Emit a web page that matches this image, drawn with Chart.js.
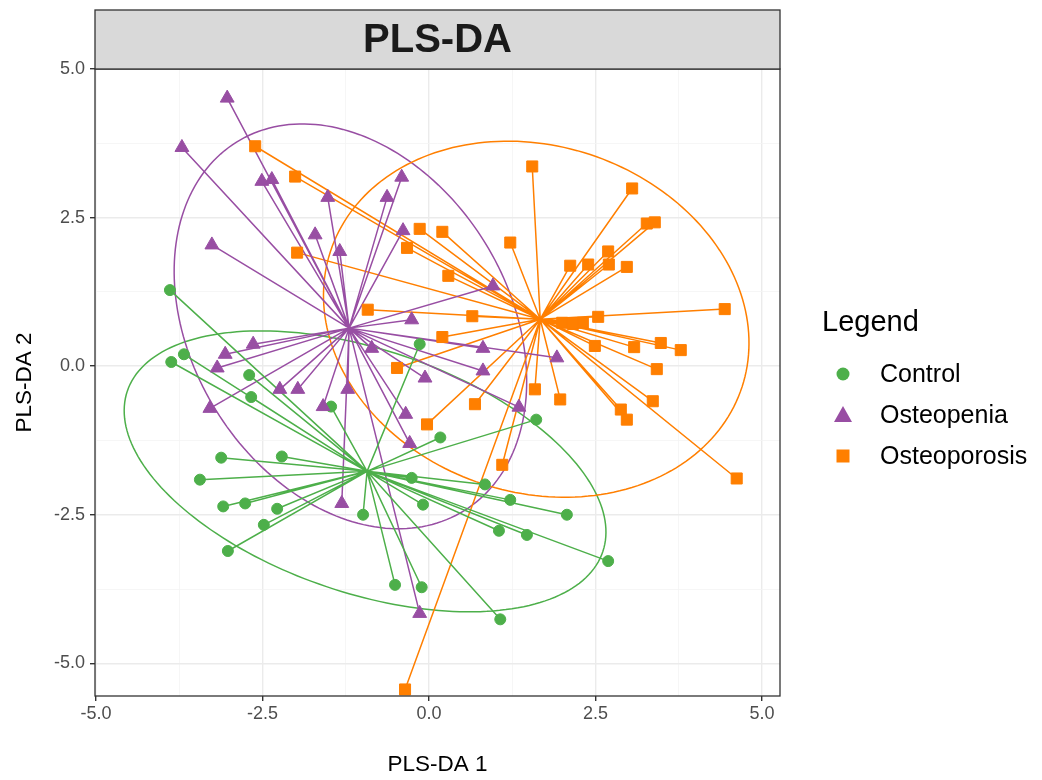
<!DOCTYPE html>
<html>
<head>
<meta charset="utf-8">
<script src="https://cdn.jsdelivr.net/npm/chart.js@4.4.0/dist/chart.umd.min.js"></script>
<style>
  html, body { margin: 0; padding: 0; background: #fff; }
  canvas { display: block; }
</style>
</head>
<body>
<canvas id="plsChart" width="1042" height="780"></canvas>
<script>
// groups
const groups = ['Control', 'Osteopenia', 'Osteoporosis'];
const groupColors = ['#4DAF4A', '#984EA3', '#FF7F00'];

// scores (PLS-DA 1 / PLS-DA 2)
const controlX = [-3.89, -3.87, -3.68, -2.70, -2.67, -3.12, -2.21, -3.44, -3.09, -2.76, -2.28, -2.48, -3.02, -0.99, -0.51, -0.11, 1.07, -0.14, 0.17, -0.26, -0.09, 0.84, 1.22, 2.07, 1.05, 1.47, 2.69, 1.61, -1.47];
const controlY = [1.28, 0.07, 0.20, -0.15, -0.52, -1.54, -1.52, -1.91, -2.36, -2.31, -2.40, -2.67, -3.11, -2.50, -3.68, -3.72, -4.26, 0.37, -1.20, -1.88, -2.33, -1.99, -2.25, -2.50, -2.77, -2.84, -3.28, -0.90, -0.68];

const osteopeniaX = [-3.03, -3.71, -3.26, -2.51, -2.36, -1.52, -1.71, -0.63, -0.41, -1.34, -0.39, -2.64, -3.06, -3.18, -3.29, -2.24, -1.97, -1.59, -1.22, -0.26, 0.81, -0.06, -0.35, 0.81, -0.29, -0.86, 1.92, -1.31, -0.14, 0.96, 1.35];
const osteopeniaY = [4.51, 3.68, 2.04, 3.11, 3.14, 2.84, 2.21, 2.84, 3.18, 1.93, 2.28, 0.37, 0.20, -0.03, -0.71, -0.39, -0.39, -0.68, -0.39, 0.78, 0.30, -0.20, -0.81, -0.08, -1.30, 0.30, 0.14, -2.31, -4.16, 1.35, -0.69];

const osteoporosisX = [-2.61, -2.01, -1.98, -0.33, -0.14, 0.20, 1.55, 1.22, 3.05, 3.27, 3.39, 2.12, 2.39, 2.69, 2.70, 2.97, 0.29, 0.65, 0.20, -0.92, -0.48, 0.69, -0.03, 1.10, 1.59, 4.44, 2.54, 2.31, 2.49, 3.08, 3.48, 3.78, 3.42, 1.97, 3.36, 2.88, 2.97, 4.62, -0.36, 2.00, 2.16];
const osteoporosisY = [3.70, 3.19, 1.91, 1.99, 2.31, 2.26, 3.36, 2.08, 2.99, 2.40, 2.42, 1.69, 1.71, 1.93, 1.71, 1.67, 1.52, 0.84, 0.49, 0.95, -0.03, -0.64, -0.98, -1.66, -0.39, 0.96, 0.83, 0.73, 0.34, 0.32, 0.39, 0.27, -0.05, -0.56, -0.59, -0.73, -0.90, -1.89, -5.44, 0.73, 0.71];

// group centroids (star centres)
const centroidX = [-0.93, -1.20, 1.67];
const centroidY = [-1.77, 0.64, 0.79];

// confidence ellipses: centre + two conjugate semi-axis vectors
const ellipseCx = [-0.96, -1.18, 1.61];
const ellipseCy = [-1.77, 0.67, 0.79];
const ellipseAx = [3.57, 1.71, 3.09];
const ellipseAy = [-1.35, -3.10, -1.14];
const ellipseBx = [-0.58, -2.02, -0.81];
const ellipseBy = [-1.94, -1.41, -2.77];

// axes
const xTickValues = [-5, -3.75, -2.5, -1.25, 0, 1.25, 2.5, 3.75, 5];
const xTickLabels = ['-5.0', '', '-2.5', '', '0.0', '', '2.5', '', '5.0'];
const yTickValues = [-5, -3.75, -2.5, -1.25, 0, 1.25, 2.5, 3.75, 5];
const yTickLabels = ['-5.0', '', '-2.5', '', '0.0', '', '2.5', '', '5.0'];

const seriesX = [controlX, osteopeniaX, osteoporosisX];
const seriesY = [controlY, osteopeniaY, osteoporosisY];
const pointStyles = ['circle', 'triangle', 'rect'];
const pointRadii = [5.5, 8, 7.8];

const FONT = '"Liberation Sans", Arial, sans-serif';

function starData(xs, ys, cx, cy) {
  const d = [];
  xs.forEach((x, i) => {
    d.push({x: cx, y: cy}, {x: x, y: ys[i]}, {x: cx, y: null});
  });
  return d;
}

const datasets = [];
groups.forEach((g, i) => {
  datasets.push({
    label: g + ' segments',
    data: starData(seriesX[i], seriesY[i], centroidX[i], centroidY[i]),
    showLine: true,
    spanGaps: false,
    borderColor: groupColors[i],
    borderWidth: 1.5,
    pointRadius: 0,
    order: 10 + i
  });
  datasets.push({
    label: g,
    data: seriesX[i].map((x, k) => ({x: x, y: seriesY[i][k]})),
    pointStyle: pointStyles[i],
    pointRadius: pointRadii[i],
    backgroundColor: groupColors[i],
    borderColor: groupColors[i],
    borderWidth: 1,
    order: 3 - i
  });
});

function isMajor(v) { return Math.abs(v / 2.5 - Math.round(v / 2.5)) < 1e-6; }

// ellipses under everything
const ellipsePlugin = {
  id: 'ellipses',
  beforeDatasetsDraw(chart) {
    const {ctx, chartArea, scales: {x, y}} = chart;
    ctx.save();
    ctx.beginPath();
    ctx.rect(chartArea.left, chartArea.top, chartArea.right - chartArea.left, chartArea.bottom - chartArea.top);
    ctx.clip();
    groups.forEach((g, i) => {
      ctx.beginPath();
      for (let k = 0; k <= 200; k++) {
        const t = k / 200 * Math.PI * 2;
        const vx = ellipseCx[i] + ellipseAx[i] * Math.cos(t) + ellipseBx[i] * Math.sin(t);
        const vy = ellipseCy[i] + ellipseAy[i] * Math.cos(t) + ellipseBy[i] * Math.sin(t);
        const px = x.getPixelForValue(vx), py = y.getPixelForValue(vy);
        if (k === 0) ctx.moveTo(px, py); else ctx.lineTo(px, py);
      }
      ctx.strokeStyle = groupColors[i];
      ctx.lineWidth = 1.5;
      ctx.stroke();
    });
    ctx.restore();
  }
};

// panel border, facet strip, legend
const framePlugin = {
  id: 'frame',
  afterDraw(chart) {
    const {ctx, chartArea: a} = chart;
    ctx.save();
    ctx.strokeStyle = '#333333';
    ctx.lineWidth = 1.3;
    ctx.strokeRect(a.left, a.top, a.right - a.left, a.bottom - a.top);

    // strip
    ctx.fillStyle = '#d9d9d9';
    ctx.fillRect(a.left, 10, a.right - a.left, a.top - 10);
    ctx.strokeRect(a.left, 10, a.right - a.left, a.top - 10);
    ctx.fillStyle = '#1a1a1a';
    ctx.font = 'bold 40px ' + FONT;
    ctx.textAlign = 'center';
    ctx.textBaseline = 'middle';
    ctx.fillText('PLS-DA', (a.left + a.right) / 2, 41);

    // legend
    ctx.fillStyle = '#000';
    ctx.textAlign = 'left';
    ctx.font = '29px ' + FONT;
    ctx.fillText('Legend', 822, 323);
    const rowY = [374, 415, 456];
    ctx.font = '25px ' + FONT;
    groups.forEach((g, i) => {
      const cx = 843, cy = rowY[i];
      ctx.fillStyle = groupColors[i];
      ctx.beginPath();
      if (i === 0) ctx.arc(cx, cy, 6.5, 0, Math.PI * 2);
      else if (i === 1) { ctx.moveTo(cx, cy - 9); ctx.lineTo(cx + 9, cy + 7); ctx.lineTo(cx - 9, cy + 7); ctx.closePath(); }
      else ctx.rect(cx - 6.5, cy - 6.5, 13, 13);
      ctx.fill();
      ctx.fillStyle = '#000';
      ctx.fillText(g, 880, cy + 1);
    });
    ctx.restore();
  }
};

new Chart(document.getElementById('plsChart'), {
  type: 'scatter',
  data: {datasets: datasets},
  plugins: [ellipsePlugin, framePlugin],
  options: {
    responsive: false,
    animation: false,
    devicePixelRatio: 1,
    layout: {padding: {left: 0, right: 262, top: 69, bottom: 0}},
    plugins: {legend: {display: false}, tooltip: {enabled: false}},
    scales: {
      x: {
        type: 'linear',
        min: -5.015,
        max: 5.27,
        afterBuildTicks: (s) => { s.ticks = xTickValues.map(v => ({value: v})); },
        afterFit: (s) => { s.height = 84; },
        border: {display: false},
        grid: {
          color: (c) => isMajor(c.tick.value) ? '#ebebeb' : '#f4f4f4',
          lineWidth: (c) => isMajor(c.tick.value) ? 1.4 : 0.8,
          tickColor: (c) => isMajor(c.tick.value) ? '#333333' : 'rgba(0,0,0,0)',
          tickLength: 5,
          drawTicks: true
        },
        ticks: {
          autoSkip: false,
          maxRotation: 0,
          padding: 2,
          color: '#4d4d4d',
          font: {family: FONT, size: 18},
          callback: (v, idx) => xTickLabels[idx]
        },
        title: {display: true, text: 'PLS-DA 1', color: '#000', font: {family: FONT, size: 22.5}, padding: {top: 0, bottom: 1.5}}
      },
      y: {
        type: 'linear',
        min: -5.55,
        max: 5.0,
        afterBuildTicks: (s) => { s.ticks = yTickValues.map(v => ({value: v})); },
        afterFit: (s) => { s.width = 95; },
        border: {display: false},
        grid: {
          color: (c) => isMajor(c.tick.value) ? '#ebebeb' : '#f4f4f4',
          lineWidth: (c) => isMajor(c.tick.value) ? 1.4 : 0.8,
          tickColor: (c) => isMajor(c.tick.value) ? '#333333' : 'rgba(0,0,0,0)',
          tickLength: 5,
          drawTicks: true
        },
        ticks: {
          autoSkip: false,
          padding: 5,
          color: '#4d4d4d',
          font: {family: FONT, size: 18},
          callback: (v, idx) => yTickLabels[idx]
        },
        title: {display: true, text: 'PLS-DA 2', color: '#000', font: {family: FONT, size: 22.5}, padding: {top: 11.5, bottom: 0}}
      }
    }
  }
});
</script>
</body>
</html>
